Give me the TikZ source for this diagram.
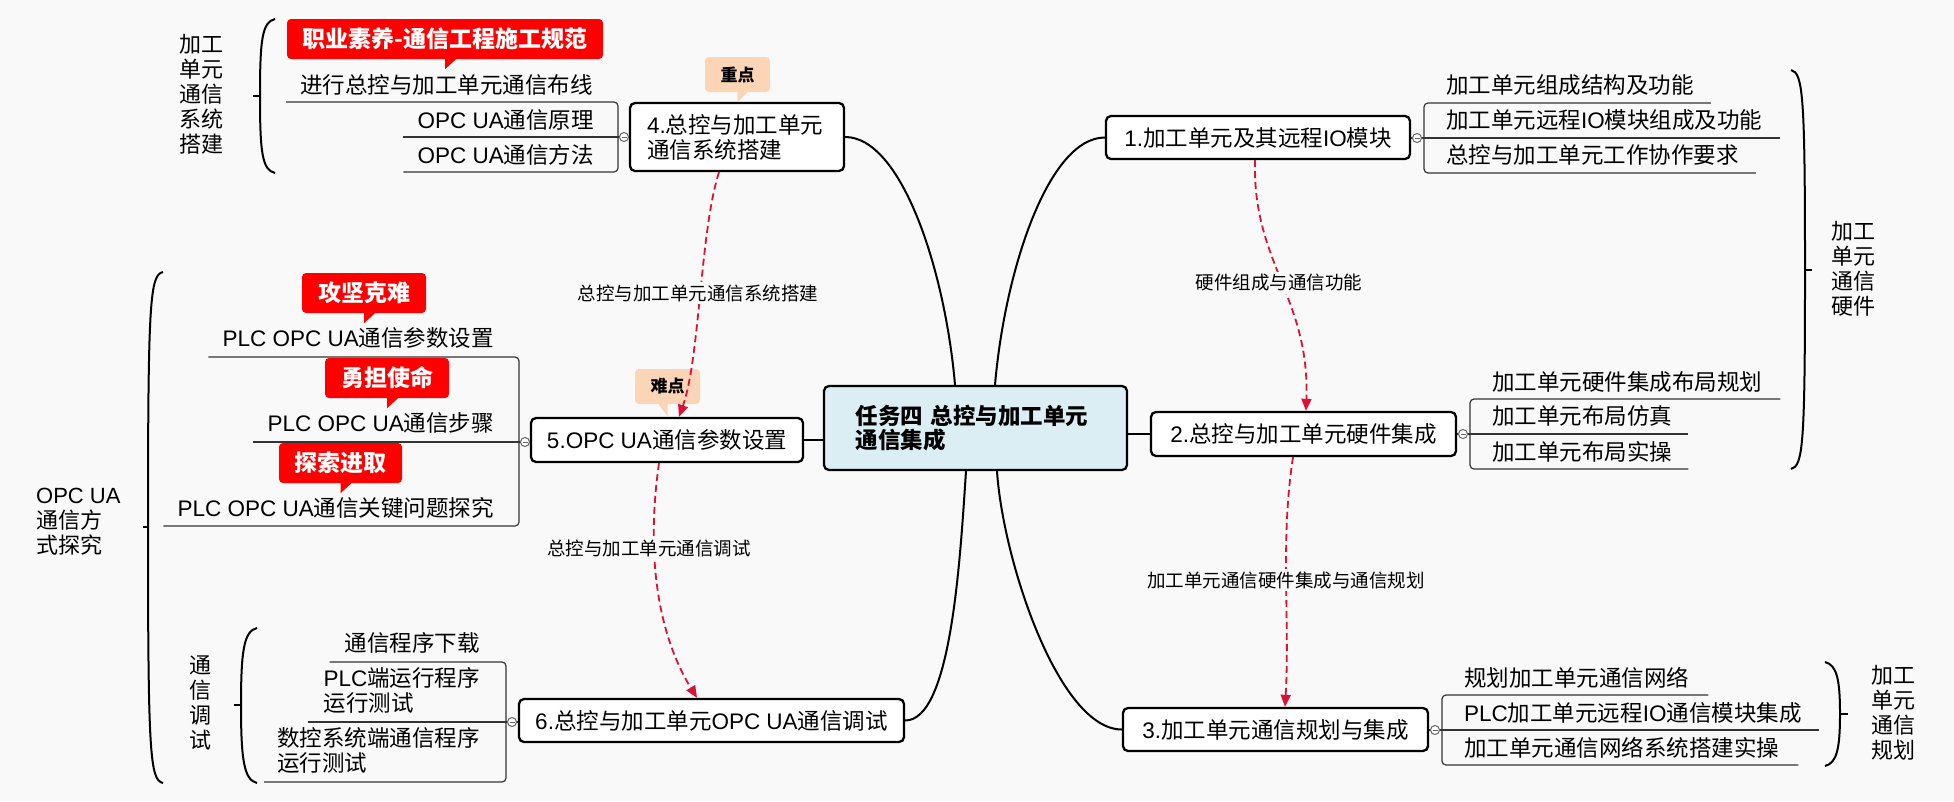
\documentclass[tikz,border=0pt]{standalone}
\usepackage{fontspec}
\setmainfont{Noto Sans CJK SC}
\newfontfamily\latinfont{Liberation Sans}
\newcommand\ltn[1]{{\latinfont #1}}
\usetikzlibrary{arrows.meta,calc}
\definecolor{bg}{HTML}{F9F9F9}
\definecolor{cblue}{HTML}{DBEEF4}
\definecolor{peach}{HTML}{FBD5B5}
\definecolor{calred}{HTML}{FF0000}
\definecolor{dred}{HTML}{DD1133}
\begin{document}
\begin{tikzpicture}[x=1pt,y=-1pt,
  mainbox/.style={draw=black, line width=2.3pt, rounded corners=5pt, fill=white, inner sep=0pt, font=\fontsize{22.5}{25}\selectfont},
  item/.style={inner sep=0pt, font=\fontsize{22.5}{25}\selectfont},
  side/.style={inner sep=0pt, align=center, font=\fontsize{22}{25}\selectfont},
  redcall/.style={fill=calred, rounded corners=4pt, text=white, font=\fontsize{23}{25}\selectfont\bfseries, inner sep=0pt, minimum height=40pt},
  tagcall/.style={fill=peach, rounded corners=4pt, font=\fontsize{17}{20}\selectfont\bfseries, inner sep=0pt, minimum width=65pt, minimum height=35pt},
  link/.style={dred, line width=1.8pt, dash pattern=on 7pt off 4pt, -{Triangle[length=12pt,width=10pt]}},
  linklabel/.style={fill=bg, inner sep=2pt, font=\fontsize{18.5}{20}\selectfont},
  branch/.style={line width=2pt, black},
  brk/.style={line width=1.2pt, black!80, rounded corners=4pt},
  brace/.style={line width=2pt, black},
  knob/.style={draw=black!60, fill=white, line width=1pt, circle, inner sep=0pt, minimum size=9pt,
    path picture={\draw[black!60,line width=.8pt] ([xshift=-2.5pt]path picture bounding box.center) -- ([xshift=2.5pt]path picture bounding box.center);}}
]
\fill[bg] (0,0) rectangle (1954,801);
\useasboundingbox (0,0) rectangle (1954,801);

% ---------- braces ----------
\draw[brace] (275,19) .. controls (262,22) and (260,40) .. (260,96) .. controls (260,152) and (262,170) .. (275,173);
\draw[brace] (253,96) -- (260,96);
\draw[brace] (163,272) .. controls (150,275) and (148,300) .. (148,527) .. controls (148,755) and (150,780) .. (163,783);
\draw[brace] (143,527) -- (148,527);
\draw[brace] (257,628) .. controls (244,631) and (241,650) .. (241,705) .. controls (241,760) and (244,780) .. (257,783);
\draw[brace] (234,705) -- (241,705);
\draw[brace] (1791,70) .. controls (1803,73) and (1805,95) .. (1805,270) .. controls (1805,445) and (1803,466) .. (1791,469);
\draw[brace] (1805,270) -- (1812,270);
\draw[brace] (1825,662) .. controls (1837,665) and (1840,680) .. (1840,714) .. controls (1840,748) and (1837,763) .. (1825,766);
\draw[brace] (1840,714) -- (1848,714);

% ---------- side labels ----------
\node[side] (s4) at (201.5,94) {加工\\单元\\通信\\系统\\搭建};
\node[side, align=left, anchor=west] (s5) at (36,522) {\ltn{OPC UA}\\通信方\\式探究};
\node[side] (s6) at (200,703) {通\\信\\调\\试};
\node[side] (s1) at (1853,269) {加工\\单元\\通信\\硬件};
\node[side] (s3) at (1893,713) {加工\\单元\\通信\\规划};

% ---------- main nodes ----------
\node[mainbox, fill=cblue, minimum width=303pt, minimum height=84pt, text width=240pt, align=left, font=\fontsize{22.5}{24}\selectfont\bfseries] (c) at (975.5,428) {任务四 总控与加工单元\\通信集成};
\node[mainbox, minimum width=214pt, minimum height=68pt, text width=180pt, align=left] (b4) at (737,137) {\ltn{4.}总控与加工单元\\通信系统搭建};
\node[mainbox, minimum width=304pt, minimum height=43pt] (b1) at (1258,137.5) {\ltn{1.}加工单元及其远程\ltn{IO}模块};
\node[mainbox, minimum width=305pt, minimum height=44pt] (b2) at (1303.5,434) {\ltn{2.}总控与加工单元硬件集成};
\node[mainbox, minimum width=305pt, minimum height=43pt] (b3) at (1275.5,729.5) {\ltn{3.}加工单元通信规划与集成};
\node[mainbox, minimum width=272pt, minimum height=44pt] (b5) at (667,440) {\ltn{5.OPC UA}通信参数设置};
\node[mainbox, minimum width=385pt, minimum height=43pt] (b6) at (711.5,720.5) {\ltn{6.}总控与加工单元\ltn{OPC UA}通信调试};

% ---------- branches ----------
\draw[branch] (b4.east) .. controls +(56,0) and +(-10,-116) .. ([xshift=-20.5pt]c.north);
\draw[branch] (b1.west) .. controls +(-56,0) and +(10,-116) .. ([xshift=19.5pt]c.north);
\draw[branch] (b6.east) .. controls +(46,0) and +(-6,90) .. ([xshift=-9.5pt]c.south);
\draw[branch] (b3.west) .. controls +(-63,0) and +(6,90) .. ([xshift=21.5pt]c.south);
\draw[branch] (b5.east) -- (b5.east -| c.west);
\draw[branch] (c.east |- b2.west) -- (b2.west);

% ---------- sub items ----------
\coordinate (p4) at (624,137);
\coordinate (p5) at (525,442);
\coordinate (p6) at (512,722);
\coordinate (p1) at (1417,138);
\coordinate (p2) at (1463,434);
\coordinate (p3) at (1435,730);

\node[item, anchor=east] (g4a) at (593,85) {进行总控与加工单元通信布线};
\node[item, anchor=east] (g4b) at (594,120) {\ltn{OPC UA}通信原理};
\node[item, anchor=east] (g4c) at (594,155) {\ltn{OPC UA}通信方法};
\draw[brk] ($(g4a.west)+(-14,17)$) -- (618,102) -- (618,172) -- ($(g4c.west)+(-14,17)$);
\draw[brk] ($(g4b.west)+(-14,17)$) -- (p4) -- (b4.west |- p4);

\node[item, anchor=east] (g5a) at (494,338) {\ltn{PLC OPC UA}通信参数设置};
\node[item, anchor=east] (g5b) at (494,423) {\ltn{PLC OPC UA}通信步骤};
\node[item, anchor=east] (g5c) at (494,508) {\ltn{PLC OPC UA}通信关键问题探究};
\draw[brk] ($(g5a.west)+(-14,19)$) -- (519,357) -- (519,526) -- ($(g5c.west)+(-14,18)$);
\draw[brk] ($(g5b.west)+(-14,19)$) -- (p5) -- (b5.west |- p5);

\node[item, anchor=east] (g6a) at (480,643) {通信程序下载};
\node[item, anchor=east, align=left] (g6b) at (480,690.5) {\ltn{PLC}端运行程序\\运行测试};
\node[item, anchor=east, align=left] (g6c) at (480,750) {数控系统端通信程序\\运行测试};
\draw[brk] ($(g6a.west)+(-15,19)$) -- (506,662) -- (506,782) -- ($(g6c.west)+(-13,32)$);
\draw[brk] ($(g6b.west)+(-15,31.5)$) -- (p6) -- (b6.west |- p6);

\node[item, anchor=west] (g1a) at (1446,85) {加工单元组成结构及功能};
\node[item, anchor=west] (g1b) at (1446,120) {加工单元远程\ltn{IO}模块组成及功能};
\node[item, anchor=west] (g1c) at (1446,155) {总控与加工单元工作协作要求};
\draw[brk] ($(g1a.east)+(17,18)$) -- (1424,103) -- (1424,173) -- ($(g1c.east)+(17,18)$);
\draw[brk] (b1.east |- p1) -- (p1) -- ($(g1b.east)+(17,18)$);

\node[item, anchor=west] (g2a) at (1492,382) {加工单元硬件集成布局规划};
\node[item, anchor=west] (g2b) at (1492,416) {加工单元布局仿真};
\node[item, anchor=west] (g2c) at (1492,452) {加工单元布局实操};
\draw[brk] ($(g2a.east)+(18,17)$) -- (1470,399) -- (1470,469) -- ($(g2c.east)+(16,17)$);
\draw[brk] (b2.east |- p2) -- (p2) -- ($(g2b.east)+(16,18)$);

\node[item, anchor=west] (g3a) at (1464,678) {规划加工单元通信网络};
\node[item, anchor=west] (g3b) at (1464,713) {\ltn{PLC}加工单元远程\ltn{IO}通信模块集成};
\node[item, anchor=west] (g3c) at (1464,748) {加工单元通信网络系统搭建实操};
\draw[brk] ($(g3a.east)+(19,17)$) -- (1442,695) -- (1442,765) -- ($(g3c.east)+(19,17)$);
\draw[brk] (b3.east |- p3) -- (p3) -- ($(g3b.east)+(17,17)$);

\node[knob] (o4) at (p4) {};
\node[knob] (o5) at (p5) {};
\node[knob] (o6) at (p6) {};
\node[knob] (o1) at (p1) {};
\node[knob] (o2) at (p2) {};
\node[knob] (o3) at (p3) {};

% ---------- callouts ----------
\node[redcall, minimum width=316pt] (k1) at (445,39) {职业素养-通信工程施工规范};
\fill[calred] (k1.south) -- ++(0,10) -- ++(11,-10) -- cycle;
\node[redcall, minimum width=124pt] (k2) at (364,293) {攻坚克难};
\fill[calred] (k2.south) -- ++(0,10) -- ++(11,-10) -- cycle;
\node[redcall, minimum width=124pt] (k3) at (387,378) {勇担使命};
\fill[calred] (k3.south) -- ++(0,10) -- ++(11,-10) -- cycle;
\node[redcall, minimum width=123pt] (k4) at (340.5,463) {探索进取};
\fill[calred] (k4.south) -- ++(0,10) -- ++(11,-10) -- cycle;
\node[tagcall] (t1) at (737.5,74.5) {重点};
\fill[peach] (t1.south) -- ++(0,10) -- ++(10,-10) -- cycle;
\node[tagcall] (t2) at (667.5,386.5) {难点};
\fill[peach] (t2.south) -- ++(0,12) -- ++(-9,-12) -- cycle;

% ---------- dashed links ----------
\draw[link] ([xshift=-18pt]b4.south) .. controls +(-19,59) and +(21,-59) .. ([xshift=12pt]b5.north);
\draw[link] ([xshift=-3pt]b1.south) .. controls +(-3,102) and +(4,-113) .. ([xshift=2.5pt]b2.north);
\draw[link] ([xshift=-10.5pt]b2.south) .. controls +(-13,84) and +(5,-87) .. ([xshift=9.5pt]b3.north);
\draw[link] ([xshift=-8pt]b5.south) .. controls +(-14,98) and +(-37,-60) .. ([xshift=-14.5pt]b6.north);

\node[linklabel] (la) at (698,293) {总控与加工单元通信系统搭建};
\node[linklabel] (lb) at (1279,283) {硬件组成与通信功能};
\node[linklabel] (lc) at (1286,580) {加工单元通信硬件集成与通信规划};
\node[linklabel] (ld) at (649,548) {总控与加工单元通信调试};
\end{tikzpicture}
\end{document}
